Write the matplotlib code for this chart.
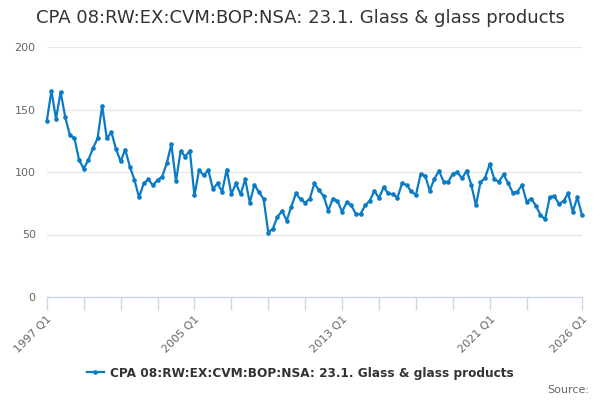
import numpy as np
import matplotlib.pyplot as plt

# Quarterly values, 1997 Q1 onwards
values = [
    140.8, 165.0, 142.6, 164.0, 143.7, 129.6, 126.9, 109.6, 102.7, 109.6,
    118.9, 126.9, 153.0, 126.9, 131.7, 118.4, 108.5, 118.0, 104.3, 93.6,
    79.7, 90.9, 94.1, 89.3, 93.6, 96.3, 107.0, 122.1, 92.5, 116.8,
    112.3, 117.1, 81.3, 101.6, 97.3, 101.6, 86.4, 90.9, 84.3, 102.0,
    82.4, 90.9, 82.1, 94.1, 75.5, 89.9, 83.7, 78.4, 51.5, 54.7,
    64.3, 68.8, 61.1, 72.3, 82.9, 78.1, 75.5, 78.7, 90.9, 85.3,
    80.8, 69.0, 78.7, 76.8, 68.3, 75.7, 73.3, 66.4, 66.4, 73.3,
    77.0, 84.8, 79.2, 87.7, 82.9, 82.1, 79.5, 90.9, 89.6, 84.5,
    81.6, 98.1, 97.1, 85.1, 94.4, 101.1, 92.3, 92.0, 98.7, 99.7,
    94.9, 101.1, 89.9, 73.3, 91.7, 95.5, 106.4, 94.1, 92.3, 98.1,
    90.9, 83.5, 84.3, 89.6, 76.3, 78.7, 73.1, 65.6, 62.1, 79.7,
    80.8, 74.4, 76.8, 82.9, 68.3, 79.7, 65.3,
]
start_year = 1997
tick_years = list(range(1997, 2025, 2)) + [2026]
label_years = [1997, 2005, 2013, 2021, 2026]
y_ticks = [0, 50, 100, 150, 200]

title = 'CPA 08:RW:EX:CVM:BOP:NSA: 23.1. Glass & glass products'
line_color = '#0a7bc4'

x = np.arange(len(values))

fig = plt.figure(figsize=(6, 4), dpi=100)
ax = fig.add_axes([0.078, 0.2575, 0.892, 0.625])

ax.plot(x, values, color=line_color, linewidth=1.6, marker='o',
        markersize=2.3, label=title, clip_on=False)

ax.set_xlim(0, (2026 - start_year) * 4)
ax.set_ylim(0, 200)

ax.set_yticks(y_ticks)
ax.set_yticklabels([str(v) for v in y_ticks])
ax.tick_params(axis='y', length=0, labelsize=8, colors='#666666', pad=8)
ax.grid(axis='y', color='#e6e6e6', linewidth=1)
ax.set_axisbelow(True)

tick_pos = [(yr - start_year) * 4 for yr in tick_years]
ax.set_xticks(tick_pos)
ax.set_xticklabels([f'{yr} Q1' if yr in label_years else '' for yr in tick_years],
                   rotation=45, ha='right', rotation_mode='anchor')
ax.tick_params(axis='x', length=9, width=1, color='#ccd6eb', labelsize=8,
               labelcolor='#666666', pad=3)

for side in ['top', 'right', 'left']:
    ax.spines[side].set_visible(False)
ax.spines['bottom'].set_color('#ccd6eb')
ax.spines['bottom'].set_linewidth(1)

fig.text(0.5, 0.955, title, ha='center', va='center', fontsize=13, color='#333333')

fig.legend(loc='center', bbox_to_anchor=(0.5, 0.067), frameon=False,
           prop={'size': 8.7, 'weight': 'bold'}, labelcolor='#333333',
           handlelength=1.4, handletextpad=0.5)

fig.text(0.982, 0.025, 'Source:', ha='right', va='center', fontsize=8, color='#666666')

fig.savefig('out.png', dpi=100)
